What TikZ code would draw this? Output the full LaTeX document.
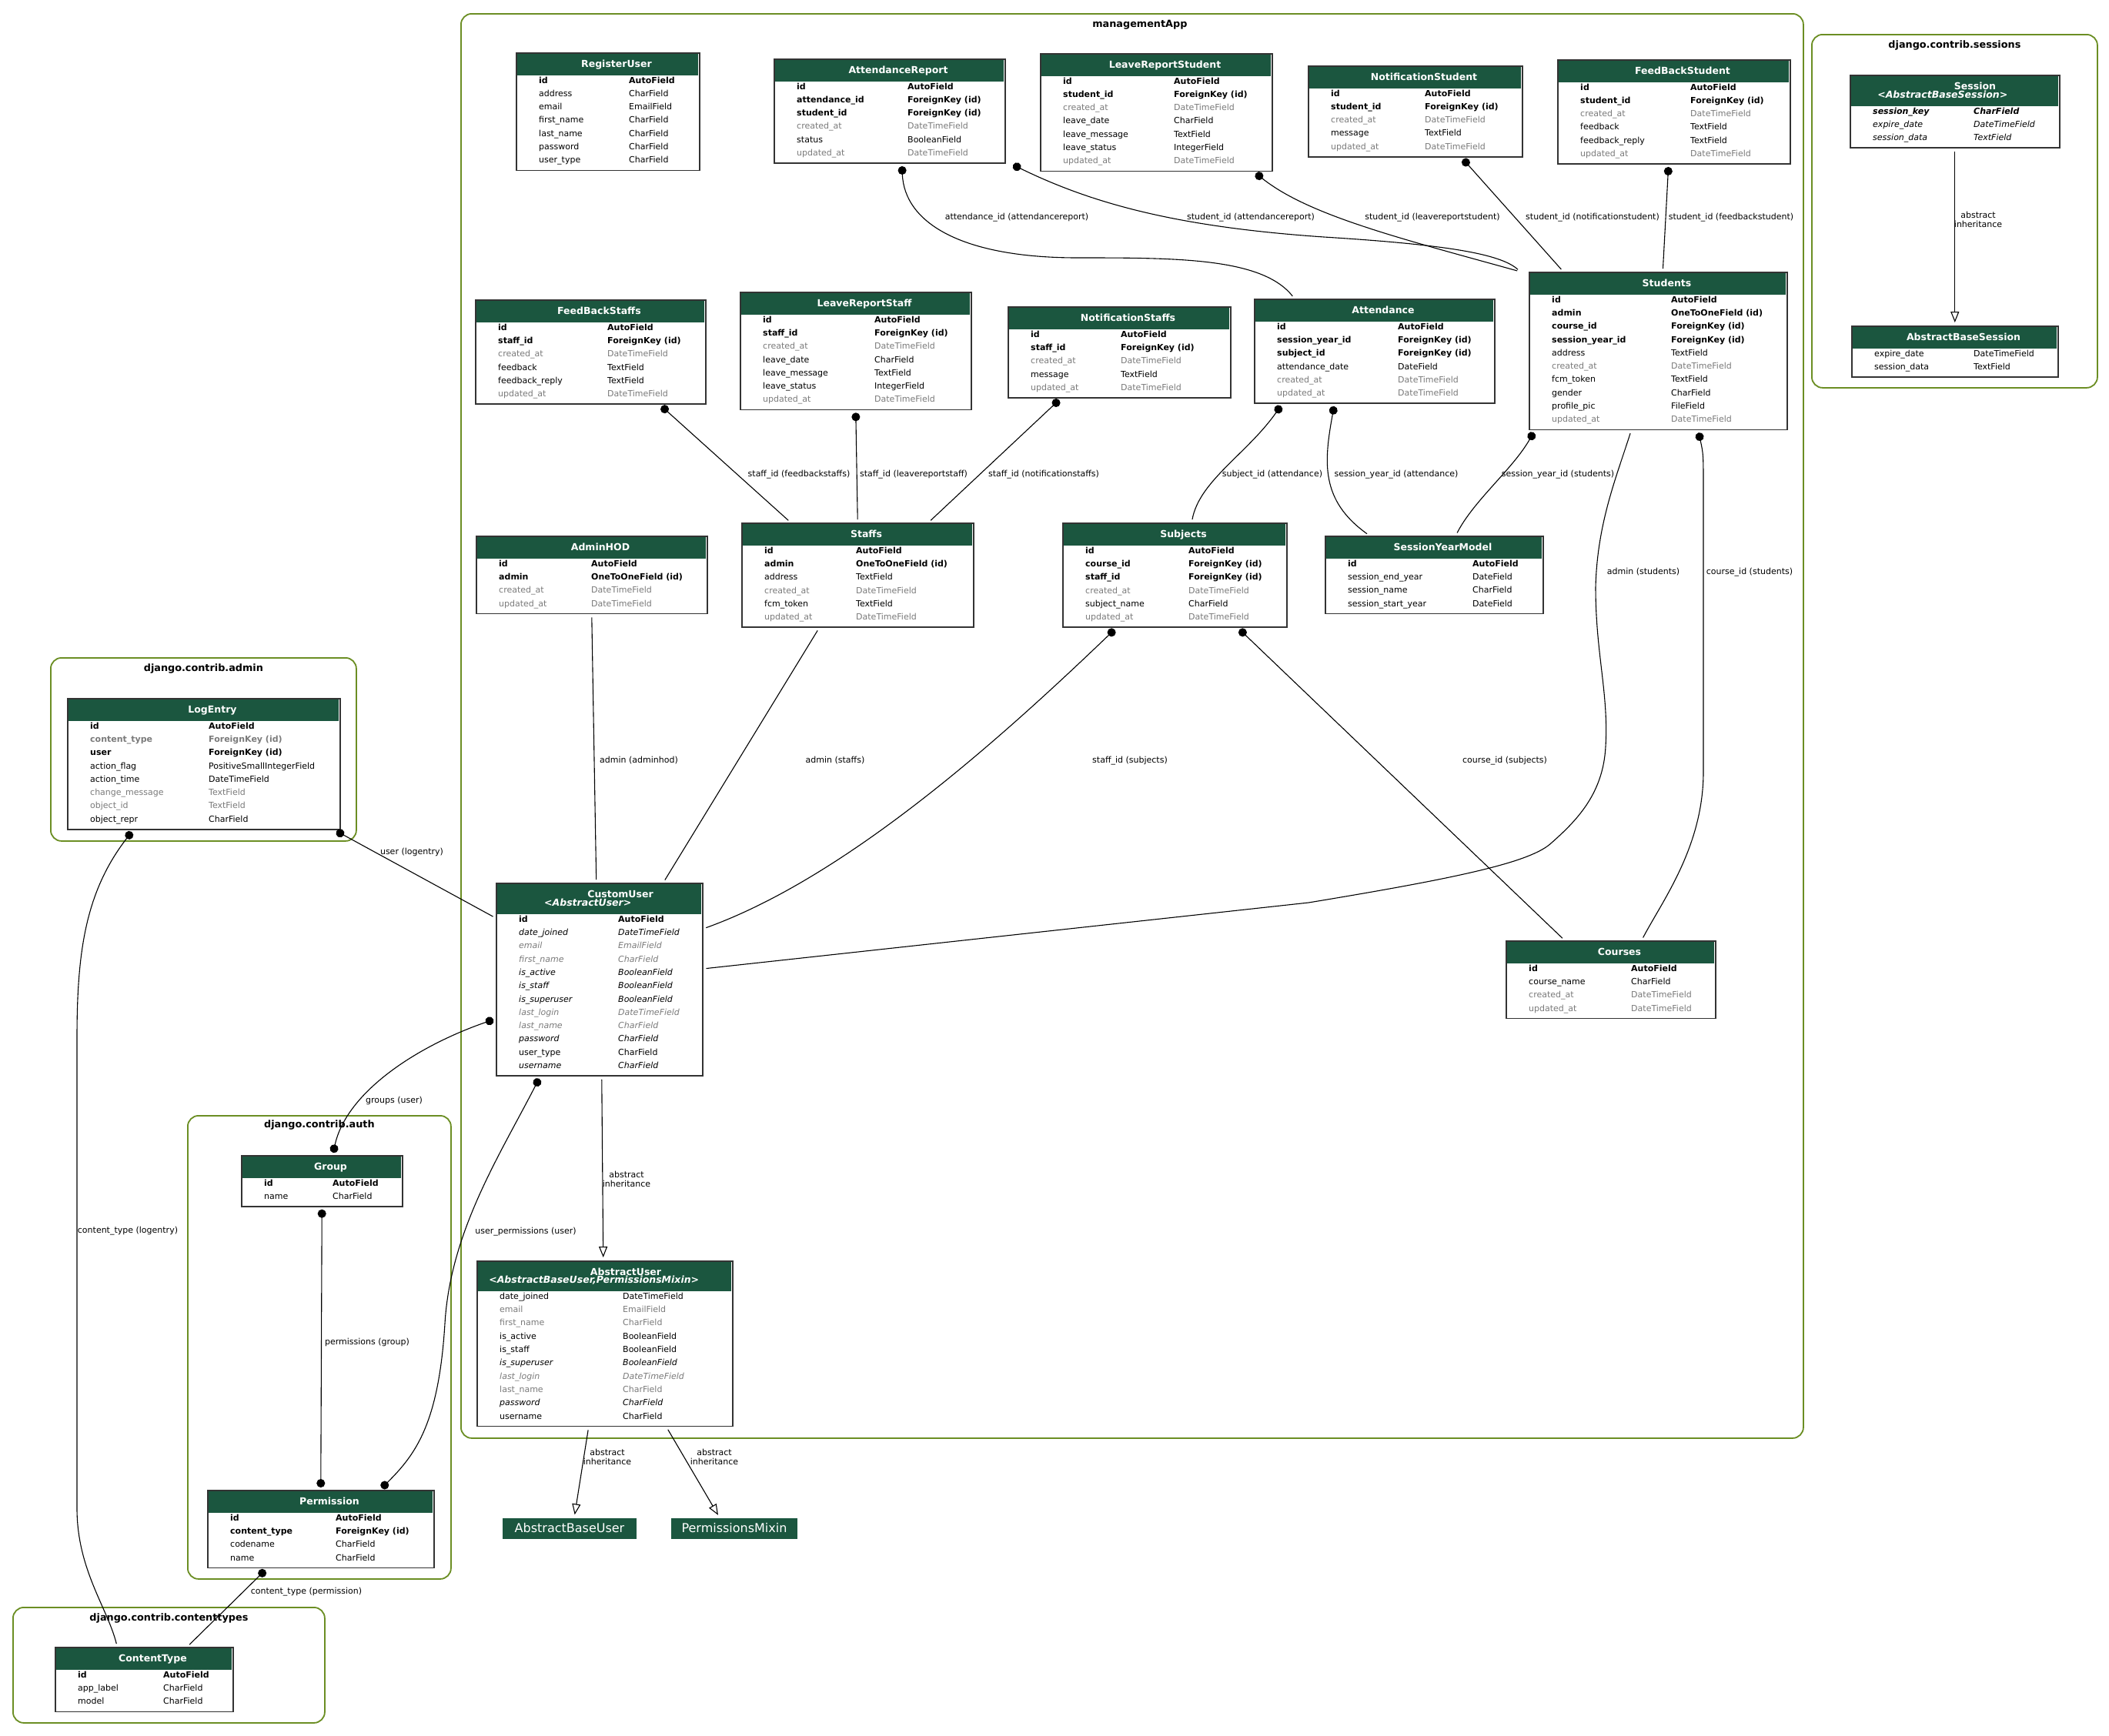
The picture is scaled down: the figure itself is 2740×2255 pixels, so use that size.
\documentclass[tikz,border=0pt]{standalone}
\usepackage{fontspec}
\setmainfont{DejaVu Sans}
\usetikzlibrary{arrows.meta, positioning}

\definecolor{hdrgreen}{HTML}{1B563F}
\definecolor{fieldgray}{HTML}{7B7B7B}
\definecolor{appborder}{HTML}{6B8E23}

\newcommand{\fieldfont}{\fontsize{11}{13}\selectfont}
\newcommand{\titlefont}{\fontsize{12.5}{13}\selectfont\bfseries}
% row styles
\newcommand{\fldn}{}
\newcommand{\fldb}{\bfseries}
\newcommand{\fldg}{\color{fieldgray}}
\newcommand{\fldi}{\itshape}
\newcommand{\fldgi}{\color{fieldgray}\itshape}
\newcommand{\fldgb}{\color{fieldgray}\bfseries}
\newcommand{\fldbi}{\bfseries\itshape}

% one model table: name, left, top, width, type column, header height, title, rows
\newcommand{\modelbox}[8]{%
  \foreach \rowstyle/\rowname/\rowtype [count=\rowidx] in {#8} {
    \node[field] at ({#2+30}, {#3+#6+10+17.33*(\rowidx-1)}) {\rowstyle\rowname};
    \node[field] at ({#2+#5}, {#3+#6+10+17.33*(\rowidx-1)}) {\rowstyle\rowtype};
    \xdef\modelrows{\rowidx}
  }
  \node[model, minimum width=#4pt, minimum height={(#6+17.33*\modelrows+1.5)*1pt}] (#1) at (#2,#3) {};
  \fill[hdrgreen] ({#2+1.5},{#3+1.5}) rectangle ({#2+#4-1.5},{#3+#6});
  \node[modeltitle] at ({#2+#4/2+12},{#3+19}) {#7};
}

\begin{document}
\begin{tikzpicture}[x=1pt, y=-1pt,
    model/.style={draw=black!80, line width=1.5pt, inner sep=0pt, anchor=north west},
    field/.style={anchor=base west, inner sep=0pt, font=\fieldfont},
    modeltitle/.style={text=white, font=\titlefont, inner sep=0pt, anchor=base},
    subtitle/.style={text=white, font=\titlefont\itshape, inner sep=0pt, anchor=base},
    cluster/.style={draw=appborder, line width=1.8pt, rounded corners=14pt, inner sep=0pt, anchor=north west},
    clusterlabel/.style={font=\fontsize{12.8}{14}\selectfont\bfseries, inner sep=0pt, anchor=mid},
    basemodel/.style={fill=hdrgreen, text=white, font=\fontsize{16}{18}\selectfont, inner sep=0pt},
    link/.style={line width=1.1pt},
    fk/.style={link, {Circle[length=11pt]}-, shorten <=3pt, shorten >=4pt},
    m2m/.style={link, {Circle[length=11pt]}-{Circle[length=11pt]}, shorten <=3pt, shorten >=3pt},
    o2o/.style={link, shorten <=4pt, shorten >=4pt},
    inherit/.style={link, -{Triangle[open, length=14pt, width=11pt]}, shorten <=4pt, shorten >=4pt},
    elabel/.style={font=\fieldfont, inner sep=0pt, anchor=mid},
    inhlabel/.style={font=\fontsize{11}{12}\selectfont, align=center, inner sep=0pt}
  ]
  \fill[white] (0,0) rectangle (2740,2255);
  \useasboundingbox (0,0) rectangle (2740,2255);

  % app clusters
  \node[cluster, minimum width=1744pt, minimum height=1851pt] (managementapp) at (598,17) {};
  \node[clusterlabel] (managementapplabel) at ([xshift=10pt, yshift=-16pt]managementapp.north) {managementApp};
  \node[cluster, minimum width=371pt, minimum height=459pt] (sessions) at (2353,44) {};
  \node[clusterlabel] (sessionslabel) at ([yshift=-16pt]sessions.north) {django.contrib.sessions};
  \node[cluster, minimum width=397pt, minimum height=238pt] (admin) at (65,854) {};
  \node[clusterlabel] (adminlabel) at ([yshift=-16pt]admin.north) {django.contrib.admin};
  \node[cluster, minimum width=342pt, minimum height=602pt] (auth) at (243,1449) {};
  \node[clusterlabel] (authlabel) at ([yshift=-14pt]auth.north) {django.contrib.auth};
  \node[cluster, minimum width=405pt, minimum height=150pt] (contenttypes) at (16,2088) {};
  \node[clusterlabel] (contenttypeslabel) at ([yshift=-16pt]contenttypes.north) {django.contrib.contenttypes};

  % managementApp
  \modelbox{registeruser}{670}{68}{238}{147}{30}{RegisterUser}{\fldb/id/AutoField, \fldn/address/CharField, \fldn/email/EmailField, \fldn/first\_name/CharField, \fldn/last\_name/CharField, \fldn/password/CharField, \fldn/user\_type/CharField}
  \modelbox{attendancereport}{1005}{76}{300}{174}{30}{AttendanceReport}{\fldb/id/AutoField, \fldb/attendance\_id/ForeignKey (id), \fldb/student\_id/ForeignKey (id), \fldg/created\_at/DateTimeField, \fldn/status/BooleanField, \fldg/updated\_at/DateTimeField}
  \modelbox{leavereportstudent}{1351}{69}{301}{174}{30}{LeaveReportStudent}{\fldb/id/AutoField, \fldb/student\_id/ForeignKey (id), \fldg/created\_at/DateTimeField, \fldn/leave\_date/CharField, \fldn/leave\_message/TextField, \fldn/leave\_status/IntegerField, \fldg/updated\_at/DateTimeField}
  \modelbox{notificationstudent}{1699}{85}{278}{152}{30}{NotificationStudent}{\fldb/id/AutoField, \fldb/student\_id/ForeignKey (id), \fldg/created\_at/DateTimeField, \fldn/message/TextField, \fldg/updated\_at/DateTimeField}
  \modelbox{feedbackstudent}{2023}{77}{302}{173}{30}{FeedBackStudent}{\fldb/id/AutoField, \fldb/student\_id/ForeignKey (id), \fldg/created\_at/DateTimeField, \fldn/feedback/TextField, \fldn/feedback\_reply/TextField, \fldg/updated\_at/DateTimeField}
  \modelbox{feedbackstaffs}{617}{389}{299}{172}{30}{FeedBackStaffs}{\fldb/id/AutoField, \fldb/staff\_id/ForeignKey (id), \fldg/created\_at/DateTimeField, \fldn/feedback/TextField, \fldn/feedback\_reply/TextField, \fldg/updated\_at/DateTimeField}
  \modelbox{leavereportstaff}{961}{379}{300}{175}{30}{LeaveReportStaff}{\fldb/id/AutoField, \fldb/staff\_id/ForeignKey (id), \fldg/created\_at/DateTimeField, \fldn/leave\_date/CharField, \fldn/leave\_message/TextField, \fldn/leave\_status/IntegerField, \fldg/updated\_at/DateTimeField}
  \modelbox{notificationstaffs}{1309}{398}{289}{147}{30}{NotificationStaffs}{\fldb/id/AutoField, \fldb/staff\_id/ForeignKey (id), \fldg/created\_at/DateTimeField, \fldn/message/TextField, \fldg/updated\_at/DateTimeField}
  \modelbox{attendance}{1629}{388}{312}{187}{30}{Attendance}{\fldb/id/AutoField, \fldb/session\_year\_id/ForeignKey (id), \fldb/subject\_id/ForeignKey (id), \fldn/attendance\_date/DateField, \fldg/created\_at/DateTimeField, \fldg/updated\_at/DateTimeField}
  \modelbox{students}{1986}{353}{335}{185}{30}{Students}{\fldb/id/AutoField, \fldb/admin/OneToOneField (id), \fldb/course\_id/ForeignKey (id), \fldb/session\_year\_id/ForeignKey (id), \fldn/address/TextField, \fldg/created\_at/DateTimeField, \fldn/fcm\_token/TextField, \fldn/gender/CharField, \fldn/profile\_pic/FileField, \fldg/updated\_at/DateTimeField}
  \modelbox{adminhod}{618}{696}{300}{150}{30}{AdminHOD}{\fldb/id/AutoField, \fldb/admin/OneToOneField (id), \fldg/created\_at/DateTimeField, \fldg/updated\_at/DateTimeField}
  \modelbox{staffs}{963}{679}{301}{149}{30}{Staffs}{\fldb/id/AutoField, \fldb/admin/OneToOneField (id), \fldn/address/TextField, \fldg/created\_at/DateTimeField, \fldn/fcm\_token/TextField, \fldg/updated\_at/DateTimeField}
  \modelbox{subjects}{1380}{679}{291}{164}{30}{Subjects}{\fldb/id/AutoField, \fldb/course\_id/ForeignKey (id), \fldb/staff\_id/ForeignKey (id), \fldg/created\_at/DateTimeField, \fldn/subject\_name/CharField, \fldg/updated\_at/DateTimeField}
  \modelbox{sessionyearmodel}{1721}{696}{283}{192}{30}{SessionYearModel}{\fldb/id/AutoField, \fldn/session\_end\_year/DateField, \fldn/session\_name/CharField, \fldn/session\_start\_year/DateField}
  \modelbox{courses}{1956}{1222}{272}{163}{30}{Courses}{\fldb/id/AutoField, \fldn/course\_name/CharField, \fldg/created\_at/DateTimeField, \fldg/updated\_at/DateTimeField}
  \modelbox{customuser}{644}{1147}{268}{159}{41}{\hspace*{32pt}CustomUser}{\fldb/id/AutoField, \fldi/date\_joined/DateTimeField, \fldgi/email/EmailField, \fldgi/first\_name/CharField, \fldi/is\_active/BooleanField, \fldi/is\_staff/BooleanField, \fldi/is\_superuser/BooleanField, \fldgi/last\_login/DateTimeField, \fldgi/last\_name/CharField, \fldi/password/CharField, \fldn/user\_type/CharField, \fldi/username/CharField}
  \node[subtitle] at ([xshift=-15pt, yshift=-30pt]customuser.north) {<AbstractUser>};
  \modelbox{abstractuser}{619}{1638}{332}{190}{40}{\hspace*{32pt}AbstractUser}{\fldn/date\_joined/DateTimeField, \fldg/email/EmailField, \fldg/first\_name/CharField, \fldn/is\_active/BooleanField, \fldn/is\_staff/BooleanField, \fldi/is\_superuser/BooleanField, \fldgi/last\_login/DateTimeField, \fldg/last\_name/CharField, \fldi/password/CharField, \fldn/username/CharField}
  \node[subtitle] at ([xshift=-14pt, yshift=-29pt]abstractuser.north) {<AbstractBaseUser,PermissionsMixin>};

  % sessions
  \modelbox{session}{2403}{97}{272}{161}{41}{\hspace*{30pt}Session}{\fldbi/session\_key/CharField, \fldi/expire\_date/DateTimeField, \fldi/session\_data/TextField}
  \node[subtitle] at ([xshift=-16pt, yshift=-30pt]session.north) {<AbstractBaseSession>};
  \modelbox{abstractbasesession}{2405}{423}{268}{159}{30}{AbstractBaseSession}{\fldn/expire\_date/DateTimeField, \fldn/session\_data/TextField}

  % admin, auth, contenttypes
  \modelbox{logentry}{87}{907}{354}{184}{30}{LogEntry}{\fldb/id/AutoField, \fldgb/content\_type/ForeignKey (id), \fldb/user/ForeignKey (id), \fldn/action\_flag/PositiveSmallIntegerField, \fldn/action\_time/DateTimeField, \fldg/change\_message/TextField, \fldg/object\_id/TextField, \fldn/object\_repr/CharField}
  \modelbox{group}{313}{1501}{209}{119}{30}{Group}{\fldb/id/AutoField, \fldn/name/CharField}
  \modelbox{permission}{269}{1936}{294}{167}{30}{Permission}{\fldb/id/AutoField, \fldb/content\_type/ForeignKey (id), \fldn/codename/CharField, \fldn/name/CharField}
  \modelbox{contenttype}{71}{2140}{231}{141}{30}{ContentType}{\fldb/id/AutoField, \fldn/app\_label/CharField, \fldn/model/CharField}

  \node[basemodel, minimum width=174pt, minimum height=27pt] (abstractbaseuser) at (740,1986) {AbstractBaseUser};
  \node[basemodel, minimum width=164pt, minimum height=27pt] (permissionsmixin) at (954,1986) {PermissionsMixin};

  % relations
  \draw[fk] ([xshift=16pt]attendancereport.south) .. controls (1175,290) and (1250,335) .. (1400,335) .. controls (1530,335) and (1640,335) .. ([xshift=-104pt]attendance.north);
  \node[elabel] at (1321,283) {attendance\_id (attendancereport)};
  \draw[fk] ([xshift=7pt]attendancereport.south east) .. controls (1420,265) and (1530,295) .. (1720,308) .. controls (1880,318) and (1950,330) .. ([xshift=-11pt]students.north west);
  \node[elabel] at (1625,283) {student\_id (attendancereport)};
  \draw[fk] ([xshift=127pt]leavereportstudent.south) .. controls (1700,280) and (1820,310) .. ([xshift=-11pt]students.north west);
  \node[elabel] at (1861,283) {student\_id (leavereportstudent)};
  \draw[fk] ([xshift=60pt]notificationstudent.south) -- ([xshift=45pt]students.north west);
  \node[elabel] at (2069,283) {student\_id (notificationstudent)};
  \draw[fk] ([xshift=-7pt]feedbackstudent.south) -- ([xshift=6pt]students.north);
  \node[elabel] at (2249,283) {student\_id (feedbackstudent)};

  \draw[fk] ([xshift=90pt]feedbackstaffs.south) -- ([xshift=-87pt]staffs.north);
  \node[elabel] at (1038,617) {staff\_id (feedbackstaffs)};
  \draw[fk] (leavereportstaff.south) -- (staffs.north);
  \node[elabel] at (1187,617) {staff\_id (leavereportstaff)};
  \draw[fk] ([xshift=-76pt]notificationstaffs.south) -- ([xshift=92pt]staffs.north);
  \node[elabel] at (1356,617) {staff\_id (notificationstaffs)};
  \draw[fk] ([xshift=-120pt]attendance.south) .. controls (1620,590) and (1558,625) .. ([xshift=22pt]subjects.north);
  \node[elabel] at (1653,617) {subject\_id (attendance)};
  \draw[fk] ([xshift=-52pt]attendance.south) .. controls (1720,600) and (1715,650) .. ([xshift=-84pt]sessionyearmodel.north);
  \node[elabel] at (1814,617) {session\_year\_id (attendance)};
  \draw[fk] ([xshift=8pt]students.south west) .. controls (1965,610) and (1915,650) .. ([xshift=28pt]sessionyearmodel.north);
  \node[elabel] at (2024,617) {session\_year\_id (students)};

  \draw[o2o] ([xshift=-35pt]students.south) .. controls (2100,620) and (2075,680) .. (2073,763) .. controls (2073,850) and (2090,900) .. (2086,970) .. controls (2083,1030) and (2050,1065) .. (2016,1095) .. controls (1990,1120) and (1900,1140) .. (1700,1173) -- ([yshift=14pt]customuser.east);
  \node[elabel] at (2135,744) {admin (students)};
  \draw[fk] ([xshift=52pt]students.south) .. controls (2213,590) .. (2213,640) -- (2213,1003) .. controls (2213,1100) and (2160,1170) .. ([xshift=40pt]courses.north);
  \node[elabel] at (2273,744) {course\_id (students)};
  \draw[fk] ([xshift=-76pt]subjects.south) .. controls (1300,960) and (1100,1140) .. ([yshift=66pt]customuser.east);
  \node[elabel] at (1468,989) {staff\_id (subjects)};
  \draw[fk] ([xshift=82pt]subjects.south) -- ([xshift=-60pt]courses.north);
  \node[elabel] at (1955,989) {course\_id (subjects)};
  \draw[o2o] (adminhod.south) -- ([xshift=-4pt]customuser.north);
  \node[elabel] at (830,989) {admin (adminhod)};
  \draw[o2o] ([xshift=-50pt]staffs.south) -- ([xshift=83pt]customuser.north);
  \node[elabel] at (1085,989) {admin (staffs)};

  \draw[inherit] ([xshift=3pt]customuser.south) -- ([xshift=-2pt]abstractuser.north);
  \node[inhlabel] at (814,1532) {abstract\\inheritance};
  \draw[inherit] ([xshift=-21pt]abstractuser.south) -- ([xshift=6pt]abstractbaseuser.north);
  \node[inhlabel] at (789,1893) {abstract\\inheritance};
  \draw[inherit] ([xshift=80pt]abstractuser.south) -- ([xshift=-19pt]permissionsmixin.north);
  \node[inhlabel] at (928,1893) {abstract\\inheritance};
  \draw[inherit] (session.south) -- (abstractbasesession.north);
  \node[inhlabel] at (2570,285) {abstract\\inheritance};

  \draw[fk] ([xshift=-8pt]logentry.south east) -- ([yshift=80pt]customuser.west);
  \node[elabel] at (535,1108) {user (logentry)};
  \draw[fk] ([xshift=86pt]logentry.south west) .. controls (110,1160) and (100,1240) .. (100,1350) -- (100,1960) .. controls (100,2040) and (140,2090) .. ([xshift=-35pt]contenttype.north);
  \node[elabel] at (166,1600) {content\_type (logentry)};
  \draw[m2m] ([yshift=-51pt]customuser.west) .. controls (540,1360) and (450,1420) .. ([xshift=14pt]group.north);
  \node[elabel] at (512,1431) {groups (user)};
  \draw[m2m] ([xshift=-77pt]customuser.south) .. controls (650,1500) and (585,1600) .. (578,1720) .. controls (570,1850) and (540,1890) .. ([xshift=77pt]permission.north);
  \node[elabel] at (683,1601) {user\_permissions (user)};
  \draw[m2m] (group.south) -- (permission.north);
  \node[elabel] at (477,1745) {permissions (group)};
  \draw[fk] ([xshift=-70pt]permission.south) -- ([xshift=56pt]contenttype.north);
  \node[elabel] at (398,2069) {content\_type (permission)};
\end{tikzpicture}
\end{document}
